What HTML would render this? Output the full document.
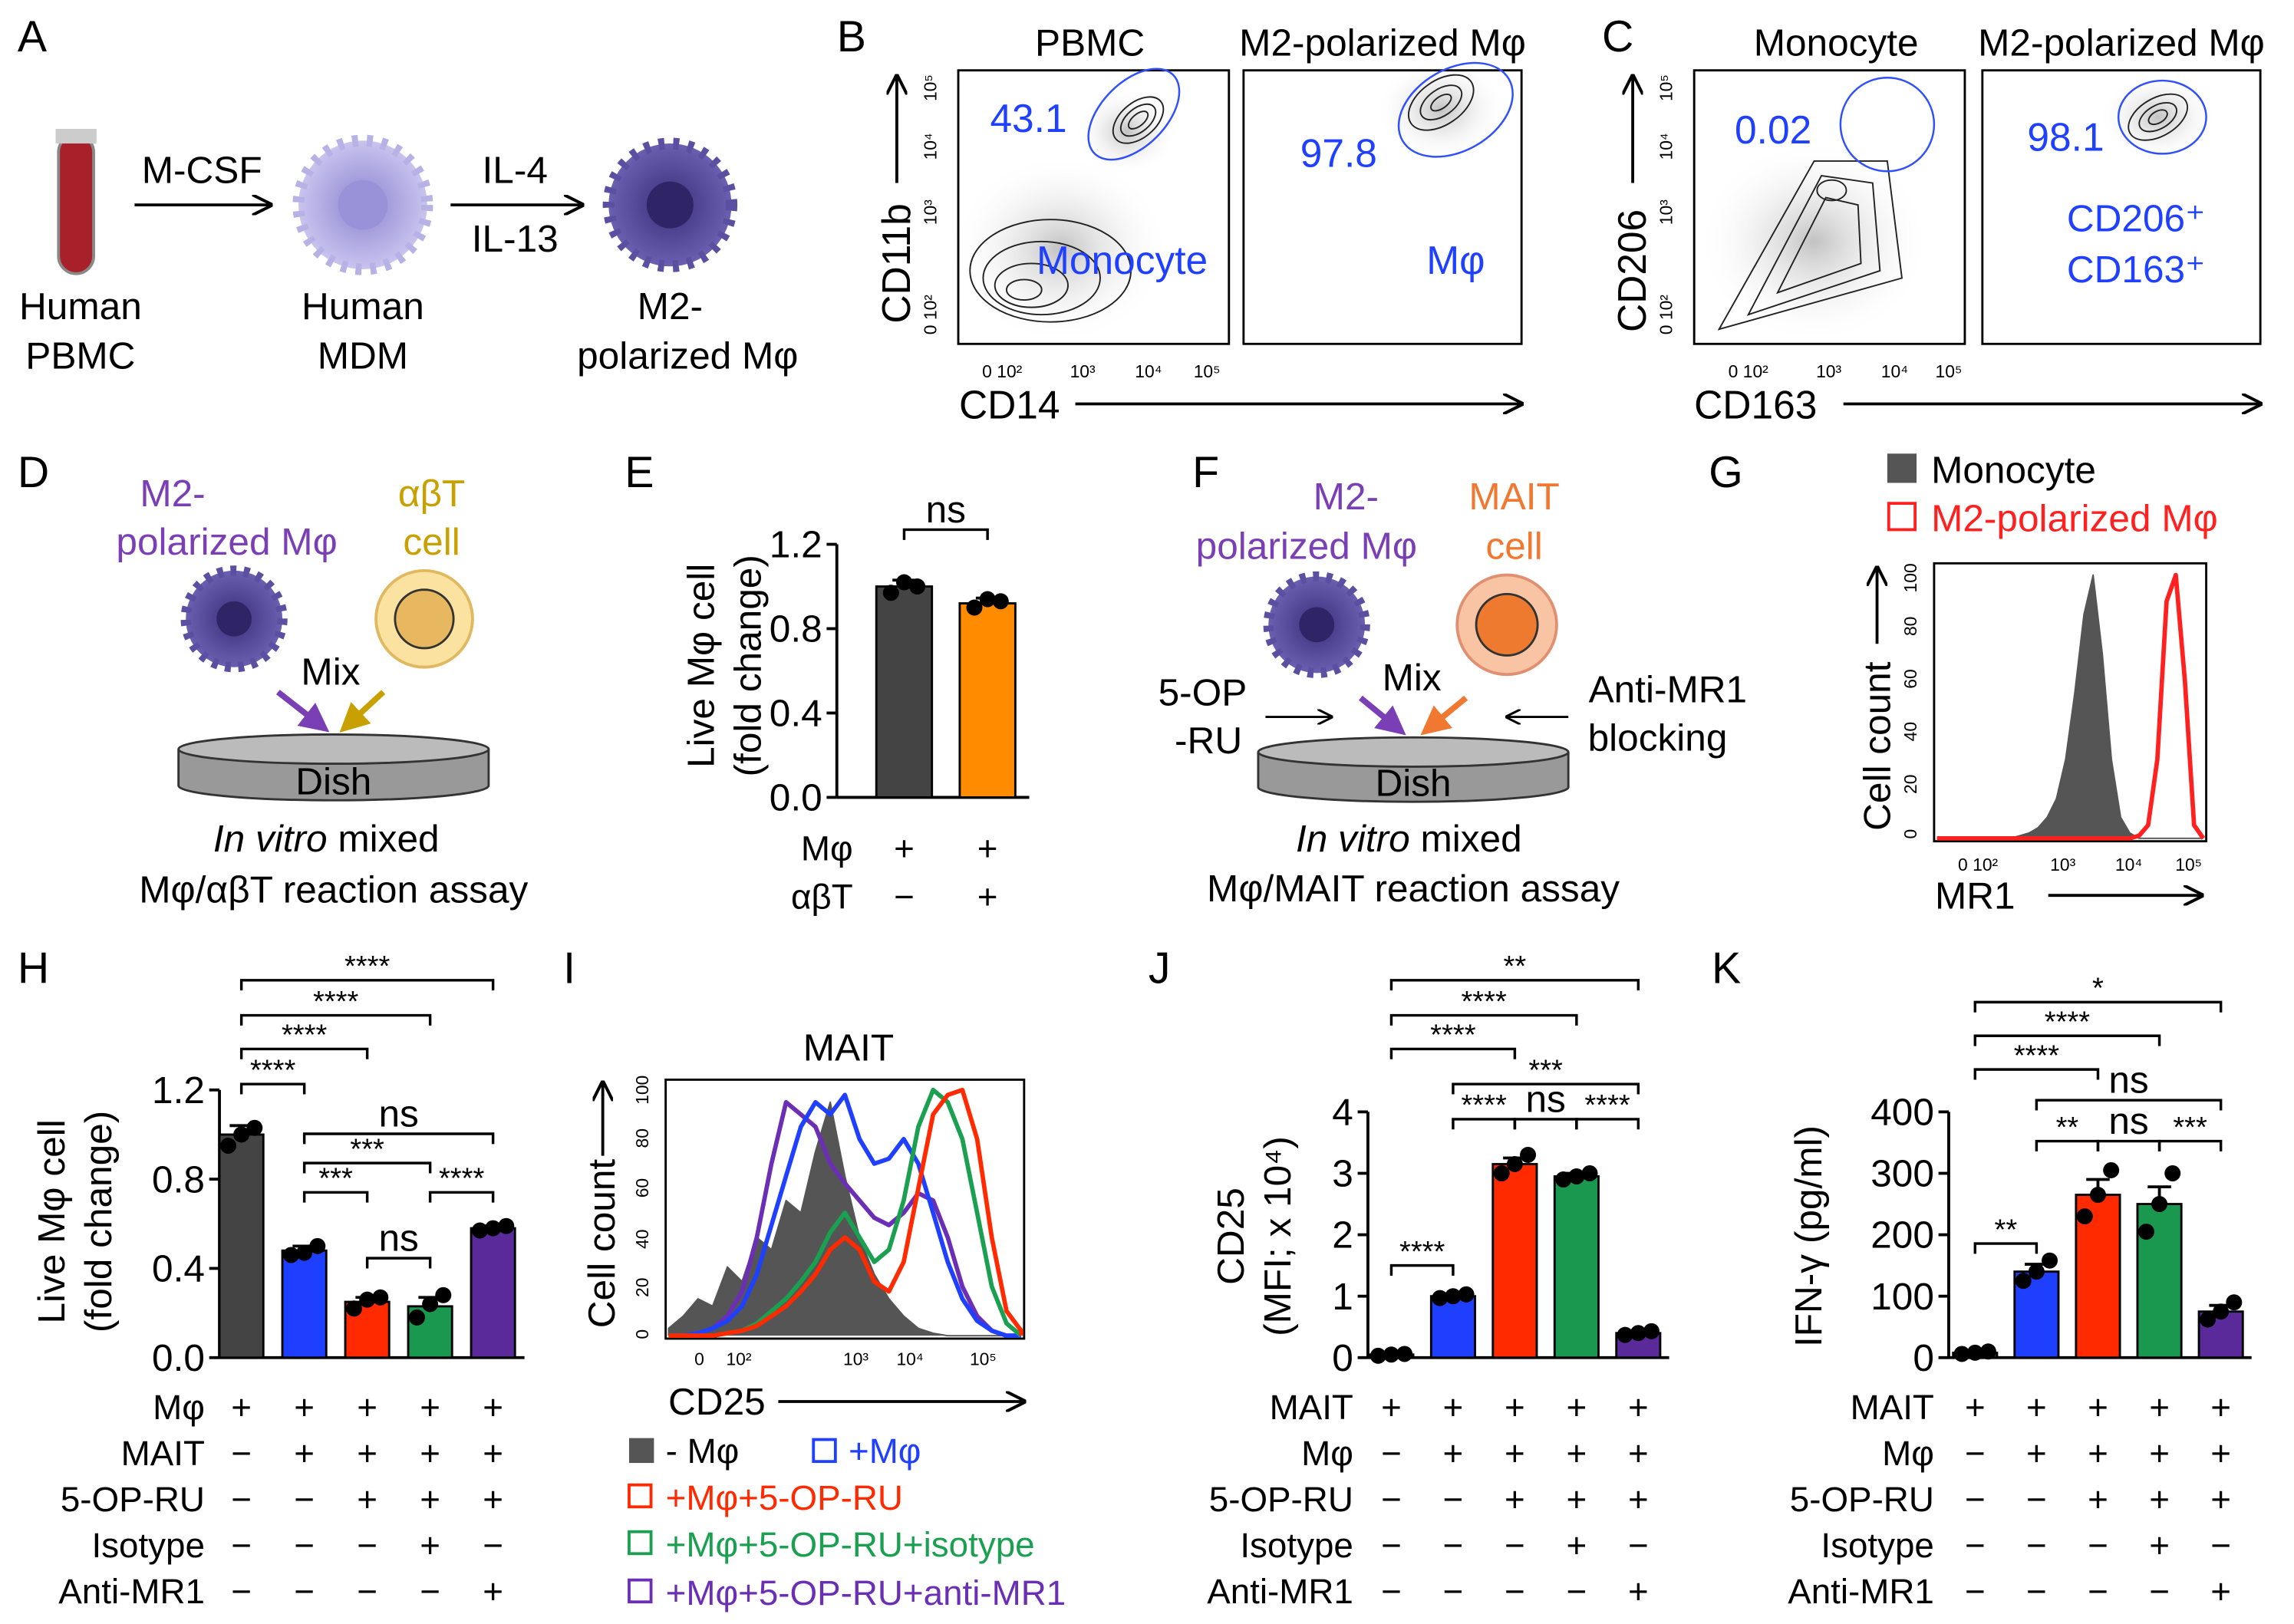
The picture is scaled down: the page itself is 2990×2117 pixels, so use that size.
<!DOCTYPE html>
<html><head><meta charset="utf-8"><style>
html,body{margin:0;padding:0;background:#fff}
svg{display:block;font-family:"Liberation Sans",Arial,sans-serif}
</style></head><body>
<svg id="fig" width="2990" height="2117" viewBox="0 0 1568 1110" xmlns="http://www.w3.org/2000/svg">
<defs>
<marker id="ah" viewBox="0 0 10 10" refX="9" refY="5" markerWidth="7" markerHeight="7" orient="auto"><path d="M0,0 L10,5 L0,10" fill="none" stroke="#000" stroke-width="1.5"/></marker>
<marker id="ahp" viewBox="0 0 10 10" refX="8" refY="5" markerWidth="5" markerHeight="5" orient="auto"><path d="M0,0 L10,5 L0,10z" fill="#7a3fb5"/></marker>
<marker id="ahg" viewBox="0 0 10 10" refX="8" refY="5" markerWidth="5" markerHeight="5" orient="auto"><path d="M0,0 L10,5 L0,10z" fill="#c8a000"/></marker>
<marker id="aho" viewBox="0 0 10 10" refX="8" refY="5" markerWidth="5" markerHeight="5" orient="auto"><path d="M0,0 L10,5 L0,10z" fill="#f07830"/></marker>
<radialGradient id="mdm"><stop offset="0" stop-color="#8d84d0"/><stop offset="1" stop-color="#c8c4ee"/></radialGradient>
<radialGradient id="m2"><stop offset="0" stop-color="#3b2f7a"/><stop offset="1" stop-color="#6a5fb0"/></radialGradient>
<radialGradient id="dens"><stop offset="0" stop-color="#999"/><stop offset="1" stop-color="#fff" stop-opacity="0"/></radialGradient>
</defs>
<g font-size="27">
<!-- Panel A -->
<g>
<text x="12" y="35" font-size="30">A</text>
<rect x="40" y="92" width="24" height="95" rx="12" fill="#a8202a" stroke="#888" stroke-width="2"/>
<rect x="38" y="88" width="28" height="10" fill="#ccc"/>
<text x="55" y="218" text-anchor="middle" font-size="26">Human</text>
<text x="55" y="252" text-anchor="middle" font-size="26">PBMC</text>
<line x1="92" y1="140" x2="185" y2="140" stroke="#000" stroke-width="2" marker-end="url(#ah)"/>
<text x="138" y="125" text-anchor="middle" font-size="26">M-CSF</text>
<g><circle cx="248" cy="140" r="44" fill="url(#mdm)" stroke="#b7b2e6" stroke-width="8" stroke-dasharray="4 6"/><circle cx="248" cy="140" r="17" fill="#9a92d8"/></g>
<text x="248" y="218" text-anchor="middle" font-size="26">Human</text>
<text x="248" y="252" text-anchor="middle" font-size="26">MDM</text>
<line x1="308" y1="140" x2="398" y2="140" stroke="#000" stroke-width="2" marker-end="url(#ah)"/>
<text x="352" y="125" text-anchor="middle" font-size="26">IL-4</text>
<text x="352" y="172" text-anchor="middle" font-size="26">IL-13</text>
<g><circle cx="458" cy="140" r="42" fill="url(#m2)" stroke="#5a4fa0" stroke-width="8" stroke-dasharray="4 6"/><circle cx="458" cy="140" r="16" fill="#2e2466"/></g>
<text x="458" y="218" text-anchor="middle" font-size="26">M2-</text>
<text x="470" y="252" text-anchor="middle" font-size="26">polarized Mφ</text>
</g>
<!-- Panel B -->
<g>
<text x="572" y="35" font-size="30">B</text>
<text x="745" y="38" text-anchor="middle" font-size="26">PBMC</text>
<text x="945" y="38" text-anchor="middle" font-size="26">M2-polarized Mφ</text>
<ellipse cx="725" cy="170" rx="75" ry="65" fill="url(#dens)" opacity="0.6"/>
<ellipse cx="770" cy="90" rx="35" ry="30" fill="url(#dens)" opacity="0.6"/>
<ellipse cx="985" cy="75" rx="45" ry="35" fill="url(#dens)" opacity="0.6"/>
<rect x="655" y="48" width="185" height="187" fill="none" stroke="#000" stroke-width="1.5"/>
<rect x="850" y="48" width="190" height="187" fill="none" stroke="#000" stroke-width="1.5"/>
<g fill="none" stroke="#222" stroke-width="1">
<ellipse cx="778" cy="82" rx="20" ry="12" transform="rotate(-40 778 82)"/><ellipse cx="778" cy="82" rx="14" ry="8" transform="rotate(-40 778 82)"/><ellipse cx="778" cy="82" rx="8" ry="4" transform="rotate(-40 778 82)"/>
<ellipse cx="718" cy="185" rx="55" ry="35"/><ellipse cx="712" cy="190" rx="40" ry="25"/><ellipse cx="705" cy="195" rx="25" ry="15"/><ellipse cx="700" cy="198" rx="12" ry="7"/>
<ellipse cx="985" cy="70" rx="25" ry="15" transform="rotate(-35 985 70)"/><ellipse cx="985" cy="70" rx="16" ry="9" transform="rotate(-35 985 70)"/><ellipse cx="985" cy="70" rx="8" ry="4" transform="rotate(-35 985 70)"/>
</g>
<ellipse cx="775" cy="78" rx="38" ry="22" transform="rotate(-45 775 78)" fill="none" stroke="#3050ff" stroke-width="1.3"/>
<ellipse cx="995" cy="75" rx="42" ry="28" transform="rotate(-30 995 75)" fill="none" stroke="#3050ff" stroke-width="1.3"/>
<text x="703" y="90" text-anchor="middle" fill="#2040ff" font-size="27">43.1</text>
<text x="915" y="114" text-anchor="middle" fill="#2040ff" font-size="27">97.8</text>
<text x="767" y="187" text-anchor="middle" fill="#2040ff" font-size="27">Monocyte</text>
<text x="995" y="187" text-anchor="middle" fill="#2040ff" font-size="27">Mφ</text>
<text transform="translate(622,180) rotate(-90)" text-anchor="middle" font-size="27">CD11b</text>
<line x1="613" y1="125" x2="613" y2="52" stroke="#000" stroke-width="2" marker-end="url(#ah)"/>
<g font-size="12" text-anchor="middle"><text transform="translate(640,215) rotate(-90)">0 10²</text><text transform="translate(640,145) rotate(-90)">10³</text><text transform="translate(640,100) rotate(-90)">10⁴</text><text transform="translate(640,60) rotate(-90)">10⁵</text>
<text x="685" y="258">0 10²</text><text x="740" y="258">10³</text><text x="785" y="258">10⁴</text><text x="825" y="258">10⁵</text></g>
<text x="690" y="286" text-anchor="middle" font-size="27">CD14</text>
<line x1="735" y1="276" x2="1040" y2="276" stroke="#000" stroke-width="2" marker-end="url(#ah)"/>
</g>
<!-- Panel C -->
<g>
<text x="1095" y="35" font-size="30">C</text>
<text x="1255" y="38" text-anchor="middle" font-size="26">Monocyte</text>
<text x="1450" y="38" text-anchor="middle" font-size="26">M2-polarized Mφ</text>
<ellipse cx="1240" cy="165" rx="80" ry="70" fill="url(#dens)" opacity="0.6"/>
<ellipse cx="1475" cy="80" rx="40" ry="30" fill="url(#dens)" opacity="0.6"/>
<rect x="1158" y="48" width="185" height="187" fill="none" stroke="#000" stroke-width="1.5"/>
<rect x="1355" y="48" width="190" height="187" fill="none" stroke="#000" stroke-width="1.5"/>
<g fill="none" stroke="#222" stroke-width="1">
<path d="M1175,225 L1240,110 L1290,110 L1300,190 Z"/><path d="M1195,215 L1245,120 L1280,125 L1285,185 Z"/><path d="M1215,200 L1248,135 L1270,140 L1272,180 Z"/><ellipse cx="1252" cy="130" rx="10" ry="7"/>
<ellipse cx="1475" cy="80" rx="22" ry="13" transform="rotate(-30 1475 80)"/><ellipse cx="1475" cy="80" rx="14" ry="8" transform="rotate(-30 1475 80)"/><ellipse cx="1475" cy="80" rx="7" ry="4" transform="rotate(-30 1475 80)"/>
</g>
<ellipse cx="1290" cy="85" rx="32" ry="32" fill="none" stroke="#3050ff" stroke-width="1.3"/>
<ellipse cx="1478" cy="80" rx="30" ry="25" fill="none" stroke="#3050ff" stroke-width="1.3"/>
<text x="1212" y="98" text-anchor="middle" fill="#2040ff" font-size="27">0.02</text>
<text x="1412" y="103" text-anchor="middle" fill="#2040ff" font-size="27">98.1</text>
<text x="1460" y="158" text-anchor="middle" fill="#2040ff" font-size="26">CD206⁺</text>
<text x="1460" y="193" text-anchor="middle" fill="#2040ff" font-size="26">CD163⁺</text>
<text transform="translate(1125,185) rotate(-90)" text-anchor="middle" font-size="27">CD206</text>
<line x1="1116" y1="125" x2="1116" y2="52" stroke="#000" stroke-width="2" marker-end="url(#ah)"/>
<g font-size="12" text-anchor="middle"><text transform="translate(1143,215) rotate(-90)">0 10²</text><text transform="translate(1143,145) rotate(-90)">10³</text><text transform="translate(1143,100) rotate(-90)">10⁴</text><text transform="translate(1143,60) rotate(-90)">10⁵</text>
<text x="1195" y="258">0 10²</text><text x="1250" y="258">10³</text><text x="1295" y="258">10⁴</text><text x="1332" y="258">10⁵</text></g>
<text x="1200" y="286" text-anchor="middle" font-size="27">CD163</text>
<line x1="1260" y1="276" x2="1545" y2="276" stroke="#000" stroke-width="2" marker-end="url(#ah)"/>
</g>
<!-- Panel D -->
<g>
<text x="12" y="333" font-size="30">D</text>
<text x="118" y="346" text-anchor="middle" fill="#7a3fb5" font-size="26">M2-</text>
<text x="155" y="379" text-anchor="middle" fill="#7a3fb5" font-size="26">polarized Mφ</text>
<text x="295" y="346" text-anchor="middle" fill="#c8a000" font-size="26">αβT</text>
<text x="295" y="379" text-anchor="middle" fill="#c8a000" font-size="26">cell</text>
<circle cx="160" cy="423" r="33" fill="url(#m2)" stroke="#5a4fa0" stroke-width="7" stroke-dasharray="4 5"/><circle cx="160" cy="423" r="12" fill="#2e2466"/>
<circle cx="290" cy="423" r="33" fill="#fbe2a0" stroke="#e0b860" stroke-width="2"/><circle cx="290" cy="423" r="20" fill="#e8b860" stroke="#333" stroke-width="1.5"/>
<text x="226" y="468" text-anchor="middle" font-size="26">Mix</text>
<line x1="190" y1="473" x2="222" y2="498" stroke="#7a3fb5" stroke-width="4" marker-end="url(#ahp)"/>
<line x1="262" y1="473" x2="235" y2="498" stroke="#c8a000" stroke-width="4" marker-end="url(#ahg)"/>
<path d="M122,512 L122,537 A106,10 0 0 0 334,537 L334,512" fill="#999" stroke="#333" stroke-width="1.5"/>
<ellipse cx="228" cy="512" rx="106" ry="10" fill="#bbb" stroke="#333" stroke-width="1.5"/>
<text x="228" y="543" text-anchor="middle" font-size="26">Dish</text>
<text x="223" y="582" text-anchor="middle" font-size="26"><tspan font-style="italic">In vitro</tspan> mixed</text>
<text x="228" y="617" text-anchor="middle" font-size="26">Mφ/αβT reaction assay</text>
</g>
<!-- Panel F -->
<g>
<text x="815" y="333" font-size="30">F</text>
<text x="920" y="348" text-anchor="middle" fill="#7a3fb5" font-size="26">M2-</text>
<text x="893" y="382" text-anchor="middle" fill="#7a3fb5" font-size="26">polarized Mφ</text>
<text x="1035" y="348" text-anchor="middle" fill="#f07830" font-size="26">MAIT</text>
<text x="1035" y="382" text-anchor="middle" fill="#f07830" font-size="26">cell</text>
<circle cx="900" cy="427" r="33" fill="url(#m2)" stroke="#5a4fa0" stroke-width="7" stroke-dasharray="4 5"/><circle cx="900" cy="427" r="12" fill="#2e2466"/>
<circle cx="1030" cy="427" r="34" fill="#f8c4a4" stroke="#e09070" stroke-width="2"/><circle cx="1030" cy="427" r="21" fill="#ee7a30" stroke="#333" stroke-width="1.5"/>
<text x="965" y="472" text-anchor="middle" font-size="26">Mix</text>
<line x1="930" y1="477" x2="958" y2="500" stroke="#7a3fb5" stroke-width="4" marker-end="url(#ahp)"/>
<line x1="1002" y1="477" x2="974" y2="500" stroke="#f07830" stroke-width="4" marker-end="url(#aho)"/>
<text x="822" y="482" text-anchor="middle" font-size="26">5-OP</text>
<text x="826" y="515" text-anchor="middle" font-size="26">-RU</text>
<line x1="865" y1="490" x2="910" y2="490" stroke="#000" stroke-width="1.5" marker-end="url(#ah)"/>
<text x="1140" y="480" text-anchor="middle" font-size="26">Anti-MR1</text>
<text x="1133" y="513" text-anchor="middle" font-size="26">blocking</text>
<line x1="1072" y1="490" x2="1030" y2="490" stroke="#000" stroke-width="1.5" marker-end="url(#ah)"/>
<path d="M860,514 L860,538 A106,10 0 0 0 1072,538 L1072,514" fill="#999" stroke="#333" stroke-width="1.5"/>
<ellipse cx="966" cy="514" rx="106" ry="10" fill="#bbb" stroke="#333" stroke-width="1.5"/>
<text x="966" y="544" text-anchor="middle" font-size="26">Dish</text>
<text x="963" y="582" text-anchor="middle" font-size="26"><tspan font-style="italic">In vitro</tspan> mixed</text>
<text x="966" y="616" text-anchor="middle" font-size="26">Mφ/MAIT reaction assay</text>
</g>
<!-- Panel G -->
<g>
<text x="1168" y="333" font-size="30">G</text>
<rect x="1290" y="310" width="20" height="20" fill="#555"/>
<text x="1320" y="330" font-size="26">Monocyte</text>
<rect x="1291" y="344" width="18" height="18" fill="none" stroke="#ff2020" stroke-width="2"/>
<text x="1320" y="363" font-size="26" fill="#ff2020">M2-polarized Mφ</text>
<rect x="1322" y="385" width="186" height="190" fill="none" stroke="#000" stroke-width="1.5"/>
<g id="gHist"></g>
<text transform="translate(1292,510) rotate(-90)" text-anchor="middle" font-size="26">Cell count</text>
<line x1="1283" y1="440" x2="1283" y2="388" stroke="#000" stroke-width="2" marker-end="url(#ah)"/>
<g font-size="12" text-anchor="middle"><text transform="translate(1310,570) rotate(-90)">0</text><text transform="translate(1310,536) rotate(-90)">20</text><text transform="translate(1310,500) rotate(-90)">40</text><text transform="translate(1310,464) rotate(-90)">60</text><text transform="translate(1310,428) rotate(-90)">80</text><text transform="translate(1310,395) rotate(-90)">100</text>
<text x="1352" y="595">0 10²</text><text x="1410" y="595">10³</text><text x="1455" y="595">10⁴</text><text x="1496" y="595">10⁵</text></g>
<text x="1350" y="621" text-anchor="middle" font-size="26">MR1</text>
<line x1="1400" y1="612" x2="1505" y2="612" stroke="#000" stroke-width="2" marker-end="url(#ah)"/>
</g>
<!-- Panel I -->
<g>
<text x="385" y="672" font-size="30">I</text>
<text x="580" y="725" text-anchor="middle" font-size="26">MAIT</text>
<rect x="455" y="738" width="245" height="177" fill="none" stroke="#000" stroke-width="1.5"/>
<g id="iHist"></g>
<text transform="translate(420,850) rotate(-90)" text-anchor="middle" font-size="26">Cell count</text>
<line x1="412" y1="790" x2="412" y2="740" stroke="#000" stroke-width="2" marker-end="url(#ah)"/>
<g font-size="12" text-anchor="middle"><text transform="translate(443,912) rotate(-90)">0</text><text transform="translate(443,880) rotate(-90)">20</text><text transform="translate(443,847) rotate(-90)">40</text><text transform="translate(443,812) rotate(-90)">60</text><text transform="translate(443,778) rotate(-90)">80</text><text transform="translate(443,745) rotate(-90)">100</text>
<text x="478" y="933">0</text><text x="505" y="933">10²</text><text x="585" y="933">10³</text><text x="622" y="933">10⁴</text><text x="672" y="933">10⁵</text></g>
<text x="490" y="967" text-anchor="middle" font-size="26">CD25</text>
<line x1="532" y1="958" x2="700" y2="958" stroke="#000" stroke-width="2" marker-end="url(#ah)"/>
<g font-size="24">
<rect x="430" y="983" width="17" height="17" fill="#555"/><text x="455" y="1000">- Mφ</text>
<rect x="556" y="984" width="15" height="15" fill="none" stroke="#2040ff" stroke-width="2"/><text x="580" y="1000" fill="#2040ff">+Mφ</text>
<rect x="430" y="1015" width="15" height="15" fill="none" stroke="#ff2a00" stroke-width="2"/><text x="455" y="1032" fill="#ff2a00">+Mφ+5-OP-RU</text>
<rect x="430" y="1047" width="15" height="15" fill="none" stroke="#1aa050" stroke-width="2"/><text x="455" y="1064" fill="#1aa050">+Mφ+5-OP-RU+isotype</text>
<rect x="430" y="1080" width="15" height="15" fill="none" stroke="#6a2fb5" stroke-width="2"/><text x="455" y="1097" fill="#6a2fb5">+Mφ+5-OP-RU+anti-MR1</text>
</g>
</g>
<text x="427" y="333" font-size="30">E</text>
<text x="12" y="672" font-size="30">H</text>
<text x="785" y="672" font-size="30">J</text>
<text x="1170" y="672" font-size="30">K</text>
<g id="charts"></g>
</g>
</svg>
<script>
// ---- Panel E data ----
const eCategories = ['Mφ only', 'Mφ + αβT'];
const eValues = [1.0, 0.92];
const eErr = [0.03, 0.025];
const ePoints = [[0.97, 1.02, 1.0], [0.9, 0.94, 0.93]];
const eTicks = [0.0, 0.4, 0.8, 1.2];
// ---- Panel H data ----
const hValues = [1.0, 0.48, 0.25, 0.23, 0.58];
const hErr = [0.04, 0.02, 0.02, 0.04, 0.01];
const hPoints = [[0.95, 1.0, 1.03], [0.46, 0.47, 0.5], [0.22, 0.26, 0.27], [0.18, 0.24, 0.28], [0.57, 0.58, 0.59]];
const hTicks = [0.0, 0.4, 0.8, 1.2];
// ---- Panel J data ----
const jValues = [0.05, 1.0, 3.15, 2.95, 0.4];
const jErr = [0.02, 0.04, 0.1, 0.05, 0.03];
const jPoints = [[0.03, 0.05, 0.06], [0.97, 1.0, 1.03], [3.0, 3.15, 3.3], [2.9, 2.95, 3.0], [0.37, 0.4, 0.43]];
const jTicks = [0, 1, 2, 3, 4];
// ---- Panel K data ----
const kValues = [8, 140, 265, 250, 75];
const kErr = [3, 12, 25, 28, 10];
const kPoints = [[6, 8, 10], [125, 140, 158], [230, 265, 305], [205, 250, 300], [62, 75, 90]];
const kTicks = [0, 100, 200, 300, 400];
const treatLabels = ['MAIT', 'Mφ', '5-OP-RU', 'Isotype', 'Anti-MR1'];
const hRowLabels = ['Mφ', 'MAIT', '5-OP-RU', 'Isotype', 'Anti-MR1'];
const hSigns = [['+','+','+','+','+'],['−','+','+','+','+'],['−','−','+','+','+'],['−','−','−','+','−'],['−','−','−','−','+']];
const jSigns = [['+','+','+','+','+'],['−','+','+','+','+'],['−','−','+','+','+'],['−','−','−','+','−'],['−','−','−','−','+']];
const hSig = [[0,4,'****'],[0,3,'****'],[0,2,'****'],[0,1,'****'],[1,4,'ns'],[1,3,'***'],[1,2,'***'],[3,4,'****'],[2,3,'ns']];
const jSig = [[0,4,'**'],[0,3,'****'],[0,2,'****'],[1,4,'***'],[1,2,'****'],[2,3,'ns'],[3,4,'****'],[0,1,'****']];
const kSig = [[0,4,'*'],[0,3,'****'],[0,2,'****'],[1,4,'ns'],[1,2,'**'],[2,3,'ns'],[3,4,'***'],[0,1,'**']];
const colors5 = ['#444444', '#1f3fff', '#ff2a00', '#1a9850', '#5b2a9a'];
// Histogram data (count %, evenly spaced log bins)
const gMonocyte = [0,0,0,0,0,0,0,0,0,1,2,4,8,15,30,55,85,100,70,30,8,2,0,0,0,0,0,0,0,0];
const gM2 = [0,0,0,0,0,0,0,0,0,0,0,0,0,0,0,0,0,0,0,0,0,0,1,5,30,90,100,60,5,0];
const iNoMphi = [3,8,15,12,28,22,40,35,55,50,75,95,65,40,25,15,8,3,1,0,0,0,0,0,0];
const iMphi = [0,0,1,3,6,12,25,45,65,85,95,90,98,80,70,72,80,70,50,30,15,6,2,0,0];
const iOpru = [0,0,0,0,1,2,4,8,12,18,25,35,40,35,22,18,30,60,90,98,100,80,40,10,2];
const iIso = [0,0,0,0,1,2,5,10,15,22,30,42,50,40,30,35,55,85,100,95,80,50,20,5,0];
const iAnti = [0,0,1,3,8,18,40,70,95,90,85,70,62,55,48,45,50,58,55,40,20,8,2,0,0];

const NS = 'http://www.w3.org/2000/svg';
function mk(tag, attrs, parent) {
  const el = document.createElementNS(NS, tag);
  for (const k in attrs) el.setAttribute(k, attrs[k]);
  parent.appendChild(el);
  return el;
}
const charts = document.getElementById('charts');

function histo(parent, series, x0, x1, yBase, yTop, fill, stroke, name) {
  const xs = i => x0 + (x1 - x0) * i / (series.length - 1);
  const ys = v => yBase - (yBase - yTop) * v / 100;
  let d = 'M' + xs(0) + ',' + yBase;
  series.forEach((v, i) => { d += ' L' + xs(i).toFixed(1) + ',' + ys(v).toFixed(1); });
  d += ' L' + xs(series.length - 1) + ',' + yBase;
  const p = mk('path', {d: d, fill: fill, stroke: stroke, 'stroke-width': fill === 'none' ? 3 : 1, 'stroke-linejoin': 'round'}, parent);
  
  
}
const gH = document.getElementById('gHist');
histo(gH, gMonocyte, 1324, 1506, 573, 393, '#555', '#555', 'hist-monocyte');
histo(gH, gM2, 1324, 1506, 573, 393, 'none', '#ff2020', 'hist-m2');
const iH = document.getElementById('iHist');
histo(iH, iNoMphi, 457, 698, 913, 745, '#555', '#555', 'hist-no-mphi');
histo(iH, iAnti, 457, 698, 913, 745, 'none', '#6a2fb5', 'hist-anti-mr1');
histo(iH, iMphi, 457, 698, 913, 745, 'none', '#2040ff', 'hist-mphi');
histo(iH, iIso, 457, 698, 913, 745, 'none', '#1aa050', 'hist-isotype');
histo(iH, iOpru, 457, 698, 913, 745, 'none', '#ff2a00', 'hist-5opru');

function barChart(cfg) {
  const g = mk('g', {}, charts);
  
  
  const yScale = v => cfg.y0 - (cfg.y0 - cfg.y1) * (v - cfg.ticks[0]) / (cfg.ticks[cfg.ticks.length - 1] - cfg.ticks[0]);
  const xScale = i => cfg.xc0 + i * cfg.dx;
  mk('line', {x1: cfg.ax, y1: yScale(cfg.ticks[0]), x2: cfg.ax, y2: yScale(cfg.ticks[cfg.ticks.length - 1]), stroke: '#000', 'stroke-width': 2}, g);
  const xEnd = xScale(cfg.values.length - 1) + cfg.dx * 0.5;
  mk('line', {x1: cfg.ax, y1: cfg.y0, x2: xEnd, y2: cfg.y0, stroke: '#000', 'stroke-width': 2}, g);
  cfg.ticks.forEach(t => {
    mk('line', {x1: cfg.ax - 7, y1: yScale(t), x2: cfg.ax, y2: yScale(t), stroke: '#000', 'stroke-width': 2}, g);
    const tl = mk('text', {x: cfg.ax - 10, y: yScale(t) + 9, 'text-anchor': 'end', 'font-size': 26}, g);
    tl.textContent = cfg.fmt(t);
    
    
  });
  cfg.values.forEach((v, i) => {
    const cx = xScale(i);
    const b = mk('rect', {x: cx - cfg.bw / 2, y: yScale(v), width: cfg.bw, height: cfg.y0 - yScale(v), fill: cfg.colors[i], stroke: '#000', 'stroke-width': 1.5}, g);
    
    
    const e = cfg.err[i];
    mk('path', {d: 'M' + cx + ',' + yScale(v) + ' V' + yScale(v + e) + ' M' + (cx - 8) + ',' + yScale(v + e) + ' H' + (cx + 8), stroke: '#000', 'stroke-width': 2, fill: 'none'}, g);
    cfg.points[i].forEach((p, j) => {
      const c = mk('circle', {cx: cx + (j - 1) * 9, cy: yScale(p), r: 5.5, fill: '#000'}, g);
      
      
    });
  });
  cfg.sig.forEach((s, k) => {
    const yb = cfg.sigY[k];
    const x1 = xScale(s[0]), x2 = xScale(s[1]);
    mk('path', {d: 'M' + x1 + ',' + (yb + 7) + ' V' + yb + ' H' + x2 + ' V' + (yb + 7), stroke: '#000', 'stroke-width': 1.8, fill: 'none'}, g);
    const st = mk('text', {x: (x1 + x2) / 2, y: s[2] === 'ns' ? yb - 5 : yb - 3, 'text-anchor': 'middle', 'font-size': s[2] === 'ns' ? 26 : 20}, g);
    st.textContent = s[2];
    
    
  });
  cfg.rowLabels.forEach((lab, r) => {
    const y = cfg.tableY + r * cfg.rowH;
    const t = mk('text', {x: cfg.labelX, y: y, 'text-anchor': 'end', 'font-size': 24}, g);
    t.textContent = lab;
    
    
    cfg.signs[r].forEach((sg, i) => {
      const tt = mk('text', {x: xScale(i), y: y, 'text-anchor': 'middle', 'font-size': 24}, g);
      tt.textContent = sg;
      
      
    });
  });
  cfg.ylab.forEach((l, k) => {
    const t = mk('text', {transform: 'translate(' + (cfg.ylabX + k * 32) + ',' + cfg.ylabY + ') rotate(-90)', 'text-anchor': 'middle', 'font-size': 26}, g);
    t.textContent = l;
    
    
  });
}
barChart({name: 'chart-e', values: eValues, err: eErr, points: ePoints, ticks: eTicks, y0: 545, y1: 372, ax: 572, xc0: 618, dx: 57, bw: 38,
  colors: ['#444444', '#ff8c00'], fmt: t => t.toFixed(1), sig: [[0, 1, 'ns']], sigY: [362], rowLabels: ['Mφ', 'αβT'],
  signs: [['+', '+'], ['−', '+']], tableY: 588, rowH: 33, labelX: 583, ylab: ['Live Mφ cell', '(fold change)'], ylabX: 488, ylabY: 455});
barChart({name: 'chart-h', values: hValues, err: hErr, points: hPoints, ticks: hTicks, y0: 928, y1: 745, ax: 150, xc0: 165, dx: 43, bw: 30,
  colors: colors5, fmt: t => t.toFixed(1), sig: hSig, sigY: [670, 694, 717, 741, 775, 795, 815, 815, 860], rowLabels: hRowLabels,
  signs: hSigns, tableY: 970, rowH: 31.5, labelX: 140, ylab: ['Live Mφ cell', '(fold change)'], ylabX: 44, ylabY: 835});
barChart({name: 'chart-j', values: jValues, err: jErr, points: jPoints, ticks: jTicks, y0: 928, y1: 760, ax: 935, xc0: 951, dx: 42.2, bw: 30,
  colors: colors5, fmt: t => String(t), sig: jSig, sigY: [670, 694, 717, 741, 765, 765, 765, 865], rowLabels: treatLabels,
  signs: jSigns, tableY: 970, rowH: 31.5, labelX: 925, ylab: ['CD25', '(MFI; x 10⁴)'], ylabX: 850, ylabY: 845});
barChart({name: 'chart-k', values: kValues, err: kErr, points: kPoints, ticks: kTicks, y0: 928, y1: 760, ax: 1332, xc0: 1350, dx: 42, bw: 30,
  colors: colors5, fmt: t => String(t), sig: kSig, sigY: [685, 708, 731, 752, 780, 780, 780, 850], rowLabels: treatLabels,
  signs: jSigns, tableY: 970, rowH: 31.5, labelX: 1322, ylab: ['IFN-γ (pg/ml)'], ylabX: 1245, ylabY: 845});
</script>
</body></html>
